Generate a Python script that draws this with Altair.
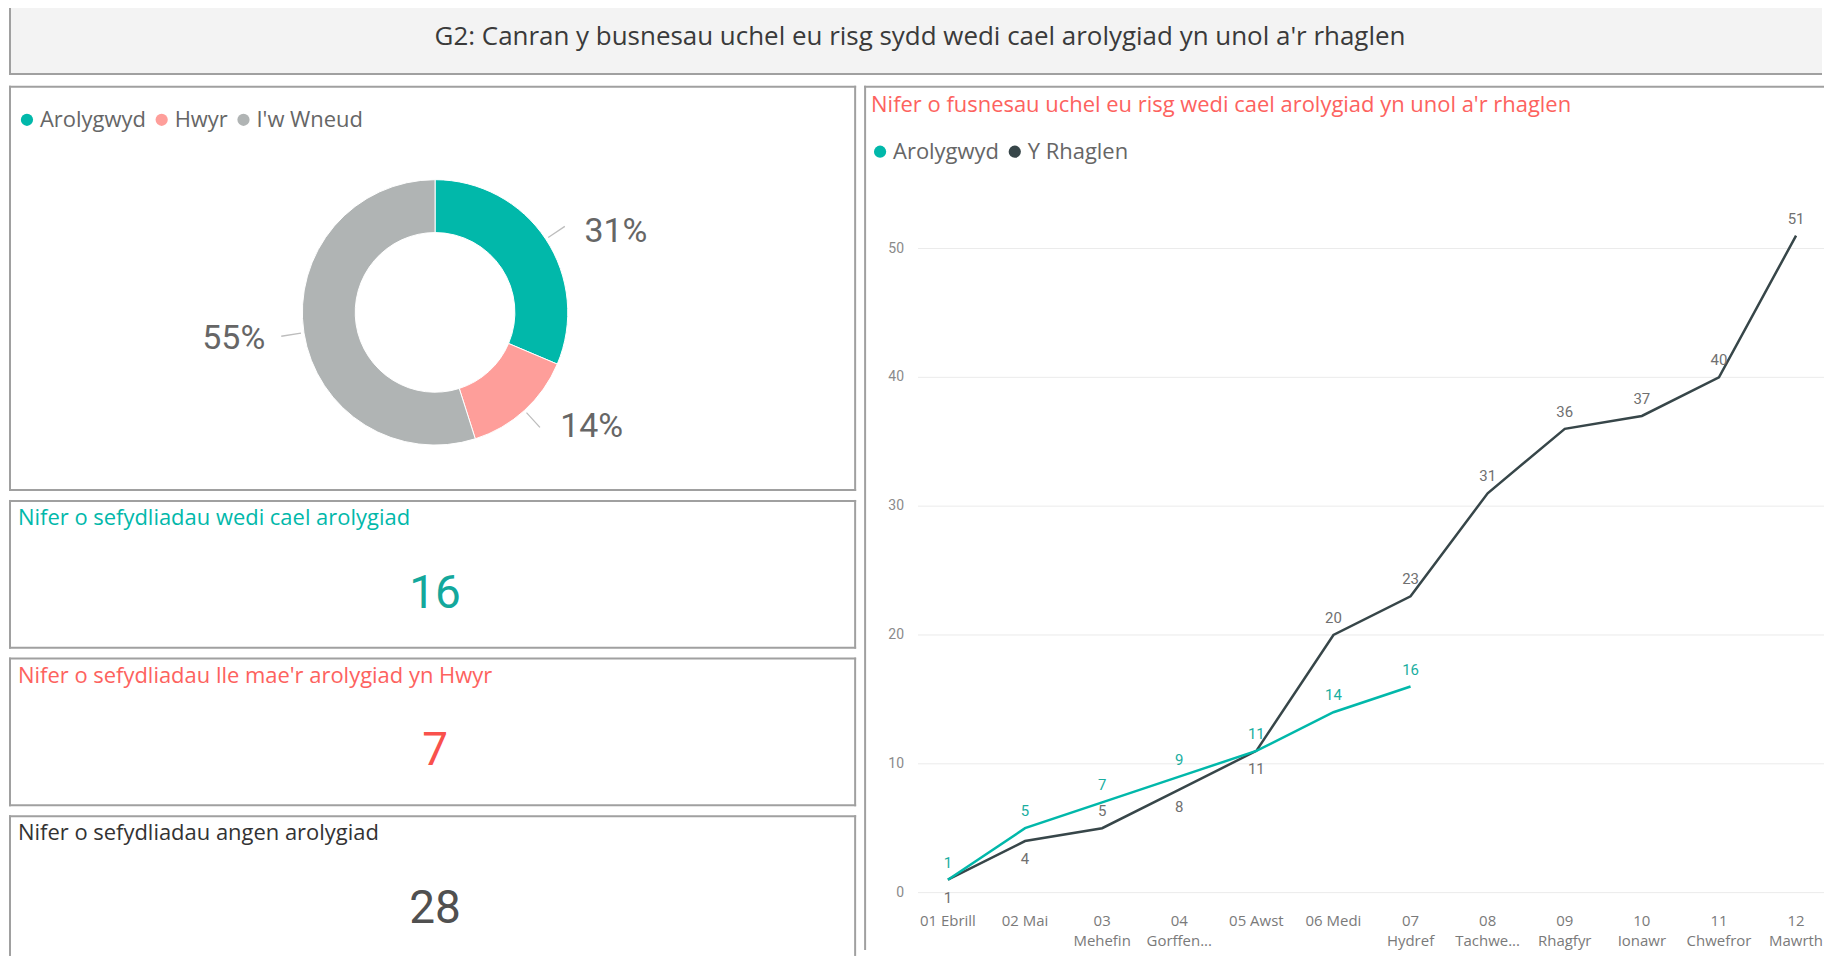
import altair as alt
import pandas as pd

# ---------------- data ----------------
donut_cats = ["Arolygwyd", "Hwyr", "I'w Wneud"]
donut_vals = [16, 7, 28]
card_titles = [
    "Nifer o sefydliadau wedi cael arolygiad",
    "Nifer o sefydliadau lle mae'r arolygiad yn Hwyr",
    "Nifer o sefydliadau angen arolygiad",
]
month_labels = ["01 Ebrill", "02 Mai", "03\nMehefin", "04\nGorffen...", "05 Awst", "06 Medi",
                "07\nHydref", "08\nTachwe...", "09\nRhagfyr", "10\nIonawr", "11\nChwefror", "12\nMawrth"]
arolygwyd = [1, 5, 7, 9, 11, 14, 16]
rhaglen = [1, 4, 5, 8, 11, 20, 23, 31, 36, 37, 40, 51]
series_names = ["Arolygwyd", "Y Rhaglen"]
y_ticks = [0, 10, 20, 30, 40, 50]
rhaglen_below_months = [1, 2, 4, 5]

TITLE = "G2: Canran y busnesau uchel eu risg sydd wedi cael arolygiad yn unol a'r rhaglen"
LINE_TITLE = "Nifer o fusnesau uchel eu risg wedi cael arolygiad yn unol a'r rhaglen"

# ---------------- style ----------------
FONT = "'Segoe UI', 'Open Sans', sans-serif"
NUMFONT = "Roboto, sans-serif"
TEAL = "#01B8AA"
DARK = "#374649"
PINK = "#FE9E9A"
GREY = "#B0B4B4"
RED = "#FD625E"
BORDER = "#A0A0A0"

W = 1817
TITLE_H = 69
LEFT_W = 849
GAP_H = 6
RIGHT_W = W - LEFT_W - GAP_H
DONUT_H = 406
CARD_H = 149
CARD3_H = 141
COL_GAP = 7
RIGHT_H = DONUT_H + CARD_H * 2 + CARD3_H + COL_GAP * 3

one = pd.DataFrame({"k": [0]})


def border(w, h, sides, sw=2):
    o = sw / 2
    layers = []
    rule = alt.Chart(one).mark_rule(color=BORDER, strokeWidth=sw)
    if "top" in sides:
        layers.append(rule.encode(x=alt.value(0), x2=alt.value(w), y=alt.value(o)))
    if "bottom" in sides:
        layers.append(rule.encode(x=alt.value(0), x2=alt.value(w), y=alt.value(h - o)))
    if "left" in sides:
        layers.append(rule.encode(x=alt.value(o), y=alt.value(0), y2=alt.value(h)))
    if "right" in sides:
        layers.append(rule.encode(x=alt.value(w - o), y=alt.value(0), y2=alt.value(h)))
    return layers


# ---------------- title box ----------------
title_df = pd.DataFrame({"t": [TITLE]})
title_text = alt.Chart(title_df).mark_text(
    font=FONT, fontSize=26, color="#3A3A3A", align="center", baseline="middle"
).encode(text="t:N", x=alt.value(913), y=alt.value(31))
title_box = alt.layer(title_text, *border(W, TITLE_H, ["top", "left", "bottom"])).properties(
    width=W, height=TITLE_H, view=alt.ViewBackground(fill="#F3F3F3", stroke=None)
)

# ---------------- donut ----------------
total = sum(donut_vals)
donut_df = pd.DataFrame({"cat": donut_cats, "value": donut_vals, "ord": list(range(len(donut_cats)))})
theta_scale = alt.Scale(domain=[0, total], nice=False, zero=False)
CX, CY = 427, 227

dbase = alt.Chart(donut_df).transform_joinaggregate(
    total="sum(value)"
).transform_window(
    cum="sum(value)", sort=[alt.SortField("ord")], frame=[None, 0]
).transform_calculate(
    start="datum.cum - datum.value",
    mid="datum.cum - datum.value / 2",
    t1="datum.cum - datum.value / 2 - 0.035",
    t2="datum.cum - datum.value / 2 + 0.035",
    pct="format(datum.value / datum.total, '.0%')",
    side="datum.cum - datum.value / 2 < datum.total / 2 ? 'R' : 'L'",
)

arcs = dbase.mark_arc(outerRadius=133, innerRadius=80, stroke="white", strokeWidth=1).encode(
    theta=alt.Theta("start:Q", scale=theta_scale, stack=None),
    theta2="cum:Q",
    color=alt.Color(
        "cat:N",
        scale=alt.Scale(domain=donut_cats, range=[TEAL, PINK, GREY]),
        legend=alt.Legend(
            title=None, orient="none", legendX=7, legendY=23, direction="horizontal",
            symbolType="circle", symbolSize=150, symbolStrokeWidth=0,
            labelFont=FONT, labelFontSize=22, labelColor="#666666",
            columnPadding=4, labelOffset=2,
        ),
    ),
    x=alt.value(CX), y=alt.value(CY),
)
leaders = dbase.mark_arc(outerRadius=156, innerRadius=136, color="#BDBDBD").encode(
    theta=alt.Theta("t1:Q", scale=theta_scale, stack=None),
    theta2="t2:Q",
    x=alt.value(CX), y=alt.value(CY),
)
lab_r = dbase.transform_filter("datum.side == 'R'").mark_text(
    radius=152, align="left", baseline="middle", font=NUMFONT, fontSize=34, color="#666666",
    dx=23, dy=3
).encode(theta=alt.Theta("mid:Q", scale=theta_scale, stack=None), text="pct:N",
         x=alt.value(CX), y=alt.value(CY))
lab_l = dbase.transform_filter("datum.side == 'L'").mark_text(
    radius=152, align="right", baseline="middle", font=NUMFONT, fontSize=34, color="#666666",
    dx=-20, dy=3
).encode(theta=alt.Theta("mid:Q", scale=theta_scale, stack=None), text="pct:N",
         x=alt.value(CX), y=alt.value(CY))

donut_panel = alt.layer(
    leaders, arcs, lab_r, lab_l, *border(LEFT_W, DONUT_H, ["top", "left", "bottom", "right"])
).properties(width=LEFT_W, height=DONUT_H)


# ---------------- cards ----------------
def card(i, h, title_color, value_color, sides):
    df = pd.DataFrame({"title": [card_titles[i]], "value": [donut_vals[i]]})
    t = alt.Chart(df).mark_text(
        align="left", baseline="middle", font=FONT, fontSize=22, color=title_color
    ).encode(text="title:N", x=alt.value(9), y=alt.value(18))
    v = alt.Chart(df).mark_text(
        align="center", baseline="middle", font=NUMFONT, fontSize=46, color=value_color
    ).encode(text="value:Q", x=alt.value(CX), y=alt.value(94))
    return alt.layer(t, v, *border(LEFT_W, h, sides)).properties(width=LEFT_W, height=h)


card1 = card(0, CARD_H, TEAL, "#13A89C", ["top", "left", "bottom", "right"])
card2 = card(1, CARD_H, RED, "#F9514C", ["top", "left", "bottom", "right"])
card3 = card(2, CARD3_H, "#333333", "#505050", ["top", "left", "right"])

# ---------------- line chart ----------------
rows = []
for i, v in enumerate(arolygwyd):
    rows.append({"series": series_names[0], "idx": i + 1, "value": v})
for i, v in enumerate(rhaglen):
    rows.append({"series": series_names[1], "idx": i + 1, "value": v})
ldf = pd.DataFrame(rows)
xdf = pd.DataFrame({"idx": list(range(1, len(month_labels) + 1)), "label": month_labels})
tdf = pd.DataFrame({"tick": y_ticks})

xs = alt.Scale(domain=[1, 12], range=[84, 934], nice=False, zero=False)
ys = alt.Scale(domain=[0, 50], range=[808.5, 163], nice=False, zero=False)
X = alt.X("idx:Q", scale=xs, axis=None)
Y = alt.Y("value:Q", scale=ys, axis=None)

grid = alt.Chart(tdf).mark_rule(color="#EBEBEB", strokeWidth=1).encode(
    x=alt.value(54), x2=alt.value(RIGHT_W), y=alt.Y("tick:Q", scale=ys, axis=None)
)
ylabels = alt.Chart(tdf).mark_text(
    align="right", baseline="middle", font=NUMFONT, fontSize=14, color="#8A8A8A"
).encode(x=alt.value(40), y=alt.Y("tick:Q", scale=ys, axis=None), text="tick:Q")
xlabels = alt.Chart(xdf).mark_text(
    align="center", baseline="top", font=FONT, fontSize=15, color="#7A7A7A",
    lineBreak="\n", lineHeight=21,
).encode(x=alt.X("idx:Q", scale=xs, axis=None), y=alt.value(829.5), text="label:N")

lbase = alt.Chart(ldf)
line_a = lbase.transform_filter(f"datum.series == '{series_names[0]}'").mark_line(
    color=TEAL, strokeWidth=2.5).encode(x=X, y=Y)
line_r = lbase.transform_filter(f"datum.series == '{series_names[1]}'").mark_line(
    color=DARK, strokeWidth=2.5).encode(x=X, y=Y)
legend_pts = lbase.mark_circle(opacity=0, size=1).encode(
    x=X, y=Y,
    color=alt.Color(
        "series:N",
        scale=alt.Scale(domain=series_names, range=[TEAL, DARK]),
        legend=alt.Legend(
            title=None, orient="none", legendX=5, legendY=55, direction="horizontal",
            symbolType="circle", symbolSize=150, symbolStrokeWidth=0, symbolOpacity=1,
            labelFont=FONT, labelFontSize=22, labelColor="#666666",
            columnPadding=4, labelOffset=2,
        ),
    ),
)
below = "indexof([" + ",".join(str(m) for m in rhaglen_below_months) + "], datum.idx) >= 0"
lab_a = lbase.transform_filter(f"datum.series == '{series_names[0]}'").mark_text(
    dy=-17, baseline="middle", font=NUMFONT, fontSize=15, color="#1AAE9F"
).encode(x=X, y=Y, text="value:Q")
lab_r_up = lbase.transform_filter(f"datum.series == '{series_names[1]}' && !({below})").mark_text(
    dy=-17, baseline="middle", font=NUMFONT, fontSize=15, color="#707070"
).encode(x=X, y=Y, text="value:Q")
lab_r_dn = lbase.transform_filter(f"datum.series == '{series_names[1]}' && ({below})").mark_text(
    dy=18, baseline="middle", font=NUMFONT, fontSize=15, color="#707070"
).encode(x=X, y=Y, text="value:Q")

lt_df = pd.DataFrame({"t": [LINE_TITLE]})
line_title = alt.Chart(lt_df).mark_text(
    align="left", baseline="middle", font=FONT, fontSize=22, color=RED
).encode(text="t:N", x=alt.value(7), y=alt.value(19))

line_panel = alt.layer(
    grid, ylabels, xlabels, line_r, line_a, legend_pts, lab_a, lab_r_up, lab_r_dn, line_title,
    *border(RIGHT_W, RIGHT_H, ["top", "left"])
).properties(width=RIGHT_W, height=RIGHT_H)

left_col = alt.vconcat(donut_panel, card1, card2, card3, spacing=COL_GAP).resolve_scale(
    color="independent").resolve_legend(color="independent")
row = alt.hconcat(left_col, line_panel, spacing=GAP_H).resolve_scale(
    color="independent").resolve_legend(color="independent")
chart = alt.vconcat(title_box, row, spacing=9).properties(
    padding={"left": 0, "top": -4, "right": 0, "bottom": 0}, background="white"
).configure_view(stroke=None).resolve_scale(color="independent").resolve_legend(color="independent")

chart.save("out.html", embed_options={"renderer": "svg", "actions": False})
